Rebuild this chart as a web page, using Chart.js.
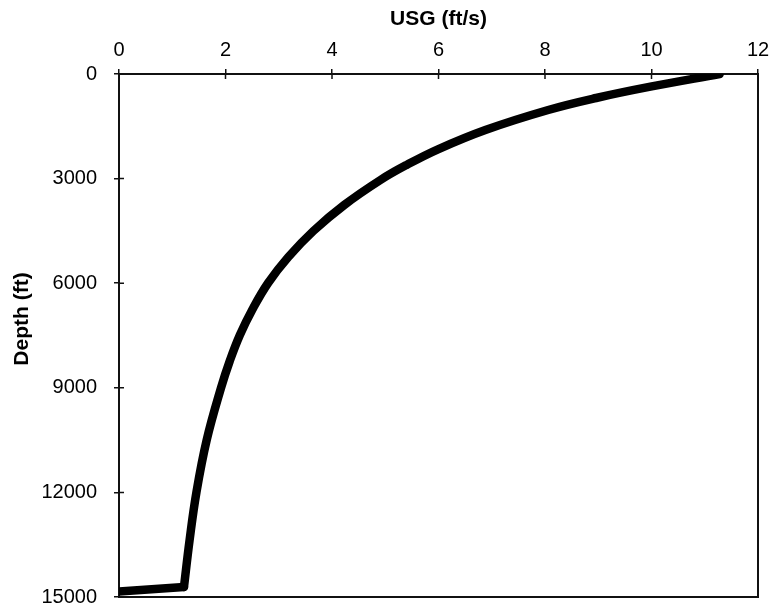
<!DOCTYPE html>
<html>
<head>
<meta charset="utf-8">
<title>USG vs Depth</title>
<script src="https://cdn.jsdelivr.net/npm/chart.js@4.4.1/dist/chart.umd.min.js"></script>
<style>
  html, body { margin: 0; padding: 0; background: #fff; }
  #wrap { width: 775px; height: 609px; }
</style>
</head>
<body>
<div id="wrap"><canvas id="c" width="775" height="609"></canvas></div>
<script>
// Superficial gas velocity along the well, surface to bottom
const depthFt   = [0, 364, 688, 1032, 1606, 2160, 2610, 3040, 3757, 4503, 5249, 5994, 6740, 7486, 8231, 9006, 10497, 11988, 13365, 14713];
const usgFtPerS = [11.28, 9.98, 8.96, 8.06, 6.88, 5.99, 5.40, 4.91, 4.23, 3.65, 3.18, 2.80, 2.51, 2.27, 2.08, 1.915, 1.647, 1.455, 1.326, 1.22];

// Short near-horizontal stretch at the bottom of the hole
const bottomDepthFt   = [14713, 14840];
const bottomUsgFtPerS = [1.22, 0];

// Axis tick values
const usgTicks   = [0, 2, 4, 6, 8, 10, 12];
const depthTicks = [0, 3000, 6000, 9000, 12000, 15000];

const FONT = "'Liberation Sans', Arial, Helvetica, sans-serif";
Chart.defaults.font.family = FONT;
Chart.defaults.color = '#000';

const toPoints = (xs, ys) => xs.map((x, i) => ({ x: x, y: ys[i] }));

// Box around the plot, inward tick marks and the rotated depth title
const framePlugin = {
  id: 'frame',
  beforeDatasetsDraw(chart) {
    const { ctx, chartArea: a, scales } = chart;
    ctx.save();
    ctx.strokeStyle = '#111';
    ctx.lineWidth = 2;
    ctx.strokeRect(a.left, a.top, a.right - a.left, a.bottom - a.top);
    ctx.lineWidth = 1.5;
    ctx.beginPath();
    usgTicks.forEach(v => {
      const px = scales.x.getPixelForValue(v);
      ctx.moveTo(px, a.top);
      ctx.lineTo(px, a.top + 5);
    });
    depthTicks.forEach(v => {
      const py = scales.y.getPixelForValue(v);
      ctx.moveTo(a.left, py);
      ctx.lineTo(a.left + 5, py);
    });
    ctx.stroke();
    ctx.restore();
  },
  afterDraw(chart) {
    const { ctx } = chart;
    ctx.save();
    ctx.translate(22, 319);
    ctx.rotate(-Math.PI / 2);
    ctx.font = 'bold 21px ' + FONT;
    ctx.fillStyle = '#000';
    ctx.textAlign = 'center';
    ctx.textBaseline = 'middle';
    ctx.fillText('Depth (ft)', 0, 0);
    ctx.restore();
  }
};

const lineStyle = {
  showLine: true,
  borderColor: '#000',
  backgroundColor: '#000',
  borderWidth: 8.5,
  pointRadius: 0,
  pointHoverRadius: 0,
  borderCapStyle: 'round',
  borderJoinStyle: 'round',
  fill: false
};

new Chart(document.getElementById('c'), {
  type: 'scatter',
  data: {
    datasets: [
      Object.assign({ data: toPoints(usgFtPerS, depthFt), tension: 0.4 }, lineStyle),
      Object.assign({ data: toPoints(bottomUsgFtPerS, bottomDepthFt), tension: 0 }, lineStyle)
    ]
  },
  options: {
    responsive: false,
    animation: false,
    layout: { padding: { left: 0, top: 0, right: 17, bottom: 12 } },
    plugins: {
      legend: { display: false },
      tooltip: { enabled: false }
    },
    scales: {
      x: {
        type: 'linear',
        position: 'top',
        min: usgTicks[0],
        max: usgTicks[usgTicks.length - 1],
        afterBuildTicks: s => { s.ticks = usgTicks.map(v => ({ value: v })); },
        afterFit: s => { s.height = 74; s.paddingLeft = 0; s.paddingRight = 0; },
        ticks: {
          padding: 7,
          font: { size: 20 },
          color: '#000',
          callback: v => String(v)
        },
        grid: { drawOnChartArea: false, tickLength: 5, color: '#111', lineWidth: 1.5 },
        border: { color: '#111', width: 2 },
        title: {
          display: true,
          text: 'USG (ft/s)',
          font: { size: 21, weight: 'bold' },
          color: '#000',
          padding: { top: 7, bottom: 0 }
        }
      },
      y: {
        type: 'linear',
        reverse: true,
        min: depthTicks[0],
        max: depthTicks[depthTicks.length - 1],
        afterBuildTicks: s => { s.ticks = depthTicks.map(v => ({ value: v })); },
        afterFit: s => { s.width = 119; s.paddingTop = 0; s.paddingBottom = 0; },
        ticks: {
          padding: 17,
          font: { size: 20 },
          color: '#000',
          callback: v => String(v)
        },
        grid: { drawOnChartArea: false, tickLength: 5, color: '#111', lineWidth: 1.5 },
        border: { color: '#111', width: 2 },
        title: { display: false }
      }
    }
  },
  plugins: [framePlugin]
});
</script>
</body>
</html>
